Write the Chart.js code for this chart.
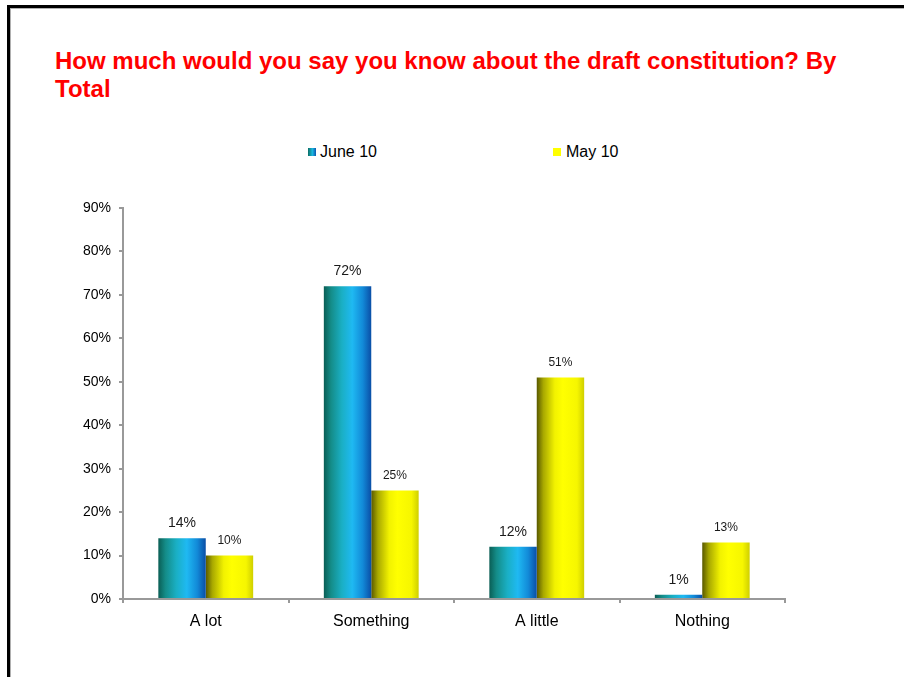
<!DOCTYPE html>
<html>
<head>
<meta charset="utf-8">
<script src="https://cdn.jsdelivr.net/npm/chart.js@4"></script>
<style>
  body { margin: 0; background: #fff; }
  #page { position: relative; width: 904px; height: 677px; overflow: hidden; font-family: "Liberation Sans", Arial, sans-serif; }
  #frame { position: absolute; left: 7px; top: 5px; width: 920px; height: 700px;
    border-left: 3px solid #000; border-top: 3px solid #000; box-shadow: inset 1px 1px 0 #b0b0b0; }
  #title { position: absolute; left: 55px; top: 47px; color: #ff0000; font-weight: bold;
    font-size: 24px; line-height: 28px; white-space: nowrap; }
  .lg-box { position: absolute; width: 8px; height: 8px; }
  .lg-text { position: absolute; font-size: 16px; line-height: 18px; color: #000; }
  #chart { position: absolute; left: 0; top: 0; }
</style>
</head>
<body>
<div id="page">
  <div id="frame"></div>
  <div id="title">How much would you say you know about the draft constitution? By<br>Total</div>
  <div class="lg-box" style="left:308px;top:148px;background:linear-gradient(to right,#0b6e63,#1ab8e0 55%,#0a55b0);"></div>
  <div class="lg-text" style="left:320px;top:143px;">June 10</div>
  <div class="lg-box" style="left:553px;top:148px;background:#ffff00;"></div>
  <div class="lg-text" style="left:566px;top:143px;">May 10</div>
  <canvas id="chart" width="904" height="677"></canvas>
</div>
<script>
var categories = ['A lot', 'Something', 'A little', 'Nothing'];
var june10 = [14, 72, 12, 1];
var may10 = [10, 25, 51, 13];
var yTicks = [0, 10, 20, 30, 40, 50, 60, 70, 80, 90];

var catPct = 0.573;

var blueStops = [[0, '#0a5e55'], [0.15, '#148c88'], [0.38, '#1aafc4'], [0.6, '#1fb9f2'], [0.82, '#128ad8'], [1, '#0a4ea6']];
var yellowStops = [[0, '#585800'], [0.14, '#a8a800'], [0.38, '#f2f200'], [0.55, '#ffff00'], [0.85, '#f6f600'], [1, '#cfcf00']];

// horizontal shading across each bar, placed from the category scale
var barGradient = function(stops, side){
  return function(context){
    var chart = context.chart;
    var xs = chart.scales.x;
    if(!xs || !xs.width) return stops[3][1];
    var center = xs.getPixelForValue(context.dataIndex);
    var barW = xs.width / categories.length * catPct / 2;
    var left = side == 0 ? center - barW : center;
    var g = chart.ctx.createLinearGradient(left, 0, left + barW, 0);
    for(var i = 0; i < stops.length; i++){
      g.addColorStop(stops[i][0], stops[i][1]);
    }
    return g;
  };
};

var valueLabels = {
  id: 'valueLabels',
  afterDatasetsDraw: function(chart){
    var ctx = chart.ctx;
    chart.data.datasets.forEach(function(ds, i){
      var meta = chart.getDatasetMeta(i);
      meta.data.forEach(function(bar, j){
        ctx.save();
        ctx.font = (i == 0 ? '14px' : '12px') + ' "Liberation Sans", Arial, sans-serif';
        ctx.fillStyle = '#1a1a1a';
        ctx.textAlign = 'center';
        ctx.textBaseline = 'middle';
        ctx.fillText(ds.data[j] + '%', bar.x, bar.y - 15);
        ctx.restore();
      });
    });
  }
};

var chart = new Chart(document.getElementById('chart').getContext('2d'), {
  type: 'bar',
  data: {
    labels: categories,
    datasets: [
      { label: 'June 10', data: june10, backgroundColor: barGradient(blueStops, 0), borderWidth: 0 },
      { label: 'May 10', data: may10, backgroundColor: barGradient(yellowStops, 1), borderWidth: 0 }
    ]
  },
  options: {
    responsive: false,
    animation: false,
    categoryPercentage: catPct,
    barPercentage: 1,
    layout: { padding: { left: 61, right: 119, top: 208, bottom: 20 } },
    plugins: { legend: { display: false }, tooltip: { enabled: false } },
    scales: {
      x: {
        offset: true,
        grid: { offset: true, drawOnChartArea: false, drawTicks: true, tickLength: 4, color: '#999', lineWidth: 2 },
        border: { color: '#999', width: 2 },
        ticks: { color: '#000', padding: 9, font: { size: 16, family: '"Liberation Sans", Arial, sans-serif' } },
        afterFit: function(scale){ scale.height = 677 - 599 - 20; }
      },
      y: {
        min: 0,
        max: 90,
        afterBuildTicks: function(scale){ scale.ticks = yTicks.map(function(v){ return { value: v }; }); },
        grid: { drawOnChartArea: false, drawTicks: true, tickLength: 4, color: '#999', lineWidth: 2 },
        border: { color: '#999', width: 2 },
        ticks: {
          color: '#000', padding: 8,
          font: { size: 14, family: '"Liberation Sans", Arial, sans-serif' },
          callback: function(v){ return v + '%'; }
        },
        afterFit: function(scale){ scale.width = 122 - 60; }
      }
    }
  },
  plugins: [valueLabels]
});
</script>
</body>
</html>
